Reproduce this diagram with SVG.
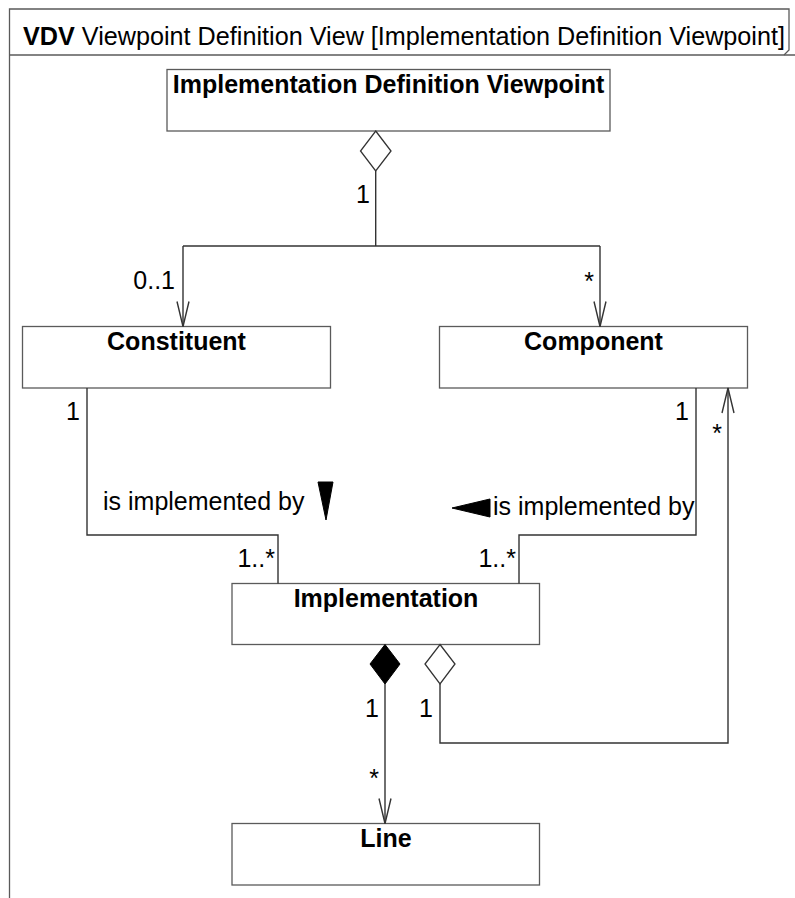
<svg xmlns="http://www.w3.org/2000/svg" width="795" height="898" viewBox="0 0 795 898">
  <style>
    text { font-family: "Liberation Sans", Arial, sans-serif; font-size: 25px; fill: #000; }
    .title { font-weight: bold; text-anchor: middle; }
    .box { fill: #fff; stroke: #5a5a5a; stroke-width: 1.3; }
    .frame { fill: none; stroke: #5a5a5a; stroke-width: 1.3; }
    .conn { fill: none; stroke: #333; stroke-width: 1.4; }
    .open { fill: #fff; stroke: #333; stroke-width: 1.3; }
    .solid { fill: #000; stroke: #000; stroke-width: 1; }
    .mid { text-anchor: middle; }
    .end { text-anchor: end; }
  </style>
  <defs>
    <marker id="navArrow" markerUnits="userSpaceOnUse" markerWidth="30" markerHeight="16" viewBox="-27 -8 30 16" refX="0" refY="0" orient="auto">
      <path d="M-25,-6 L0,0 L-25,6" fill="none" stroke="#333" stroke-width="1.4"/>
    </marker>
  </defs>

  <!-- diagram frame with its name tab -->
  <g id="frame">
    <path class="frame" d="M9.5,898 V9 H789 V50 L784,55"/>
    <path class="frame" d="M9.5,55 H795"/>
    <text x="23" y="45" textLength="762" lengthAdjust="spacingAndGlyphs"><tspan font-weight="bold">VDV</tspan> Viewpoint Definition View [Implementation Definition Viewpoint]</text>
  </g>

  <!-- blocks -->
  <g id="implementation-definition-viewpoint">
    <rect class="box" x="167" y="69.5" width="443" height="61.5"/>
    <text class="title" x="388.5" y="93">Implementation Definition Viewpoint</text>
  </g>
  <g id="constituent">
    <rect class="box" x="22.5" y="326.5" width="308" height="61.5"/>
    <text class="title" x="176.5" y="350">Constituent</text>
  </g>
  <g id="component">
    <rect class="box" x="439.5" y="326.5" width="308" height="61.5"/>
    <text class="title" x="593.5" y="350">Component</text>
  </g>
  <g id="implementation">
    <rect class="box" x="232" y="583.5" width="307.5" height="61"/>
    <text class="title" x="386" y="607">Implementation</text>
  </g>
  <g id="line">
    <rect class="box" x="232" y="823.5" width="307.5" height="61.5"/>
    <text class="title" x="386" y="847">Line</text>
  </g>

  <!-- associations -->
  <g id="connectors">
    <!-- viewpoint aggregates constituent and component -->
    <path class="conn" d="M375.7,171 V246"/>
    <path class="conn" d="M183,246 H600"/>
    <path class="conn" d="M183,246 V326.5" marker-end="url(#navArrow)"/>
    <path class="conn" d="M600,246 V326.5" marker-end="url(#navArrow)"/>
    <polygon class="open" points="375.7,131 391,151 375.7,171 360.5,151"/>
    <text class="mid" x="363" y="203">1</text>
    <text class="end" x="175" y="289">0..1</text>
    <text class="mid" x="589" y="290">*</text>

    <!-- constituent is implemented by implementation -->
    <path class="conn" d="M87,388 V535 H278 V583.5"/>
    <text class="end" x="80" y="420">1</text>
    <text x="103" y="510">is implemented by</text>
    <polygon class="solid" points="318,482 333,482 326,520"/>
    <text class="end" x="275" y="567">1..*</text>

    <!-- component is implemented by implementation -->
    <path class="conn" d="M696,388 V535 H519 V583.5"/>
    <text class="end" x="689" y="420">1</text>
    <polygon class="solid" points="452,508 490,499 490,517"/>
    <text x="493" y="515">is implemented by</text>
    <text class="end" x="516" y="567">1..*</text>

    <!-- implementation composes lines -->
    <path class="conn" d="M385,684 V823.5" marker-end="url(#navArrow)"/>
    <polygon class="solid" points="385,644.5 400,664 385,684 370,664"/>
    <text class="mid" x="372" y="717">1</text>
    <text class="mid" x="374" y="787">*</text>

    <!-- implementation aggregates components -->
    <path class="conn" d="M440,684 V743 H728 V388" marker-end="url(#navArrow)"/>
    <polygon class="open" points="440,644.5 455,664 440,684 425,664"/>
    <text class="mid" x="426" y="717">1</text>
    <text class="mid" x="717" y="442">*</text>
  </g>
</svg>
